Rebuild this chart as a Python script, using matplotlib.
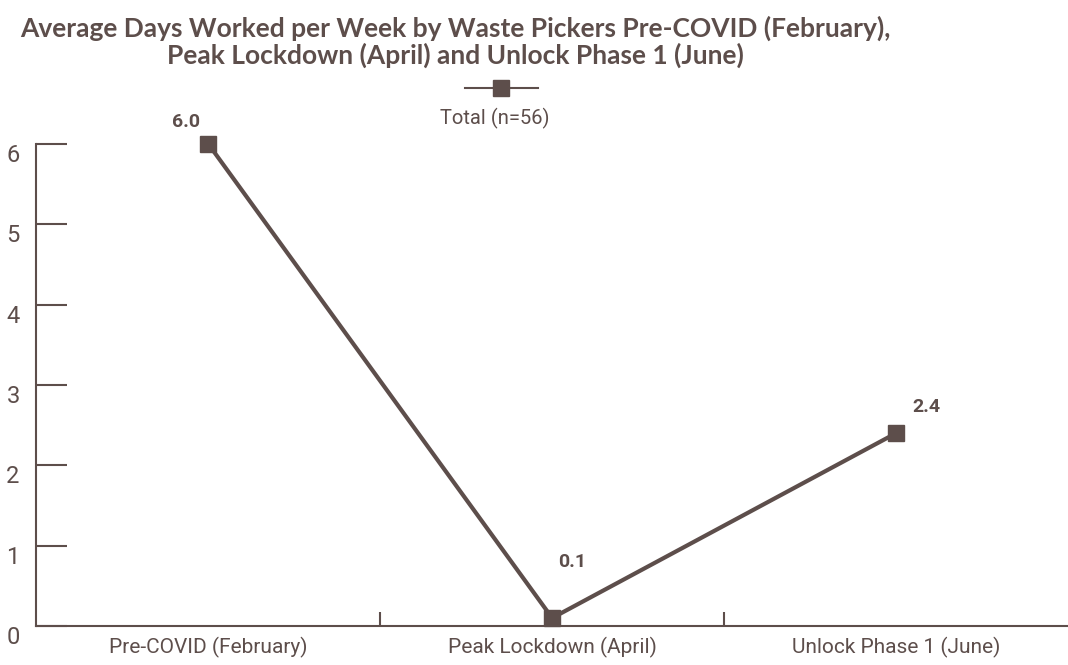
import matplotlib.pyplot as plt
import matplotlib.transforms as mtrans
from matplotlib.lines import Line2D

# 数据
periods = ['Pre-COVID (February)', 'Peak Lockdown (April)', 'Unlock Phase 1 (June)']
days = [6.0, 0.1, 2.4]
labels = ['6.0', '0.1', '2.4']
series_name = 'Total (n=56)'

col = '#5d4e4b'
plt.rcParams['font.family'] = ['Roboto', 'DejaVu Sans']

fig = plt.figure(figsize=(10.68, 6.65), dpi=100)
ax = fig.add_axes([0.034, 0.0586, 0.966, 0.725])

x = [0.5, 1.5, 2.5]
ax.plot(x, days, color=col, lw=3, marker='s', ms=11, clip_on=False, zorder=3)

# 数据标签
offs = [(-22, 22), (20, 56), (30, 26)]
for xi, yi, t, o in zip(x, days, labels, offs):
    ax.annotate(t, (xi, yi), xytext=o, textcoords='offset pixels',
                ha='center', va='center', fontsize=14, fontweight='bold', color=col)

ax.set_xlim(0, 3)
ax.set_ylim(0, 6)
ax.set_xticks([1, 2])
ax.set_xticklabels([])
ax.set_xticks(x, minor=True)
ax.set_xticklabels(periods, minor=True)
ax.tick_params(axis='x', which='major', direction='in', length=10, width=1.5, color=col)
ax.tick_params(axis='x', which='minor', length=0, pad=8, labelsize=15, labelcolor=col)
ax.set_yticks(range(7))
ax.tick_params(axis='y', direction='in', length=22, width=1.5, color=col, pad=12,
               labelsize=17, labelcolor=col)
# y轴标签略微下移
shift = mtrans.ScaledTranslation(0, -9 / 100, fig.dpi_scale_trans)
for lab in ax.get_yticklabels():
    lab.set_transform(lab.get_transform() + shift)
for s in ['top', 'right']:
    ax.spines[s].set_visible(False)
for s in ['left', 'bottom']:
    ax.spines[s].set_color(col)
    ax.spines[s].set_linewidth(1.5)

# 图例
fig.add_artist(Line2D([465 / 1068, 538 / 1068], [1 - 88 / 665] * 2, color=col, lw=1.5,
                      transform=fig.transFigure))
fig.add_artist(Line2D([501 / 1068], [1 - 88 / 665], color=col, marker='s', ms=12,
                      transform=fig.transFigure))
fig.text(495 / 1068, 1 - 118 / 665, series_name, ha='center', va='center', fontsize=14.5,
         color=col)

fig.text(455 / 1068, 1 - 42 / 665,
         'Average Days Worked per Week by Waste Pickers Pre-COVID (February),\n'
         'Peak Lockdown (April) and Unlock Phase 1 (June)',
         ha='center', va='center', fontsize=19, fontweight='bold', color=col,
         family=['Lato', 'DejaVu Sans'], linespacing=1.1)

fig.savefig('out.png', dpi=100)
